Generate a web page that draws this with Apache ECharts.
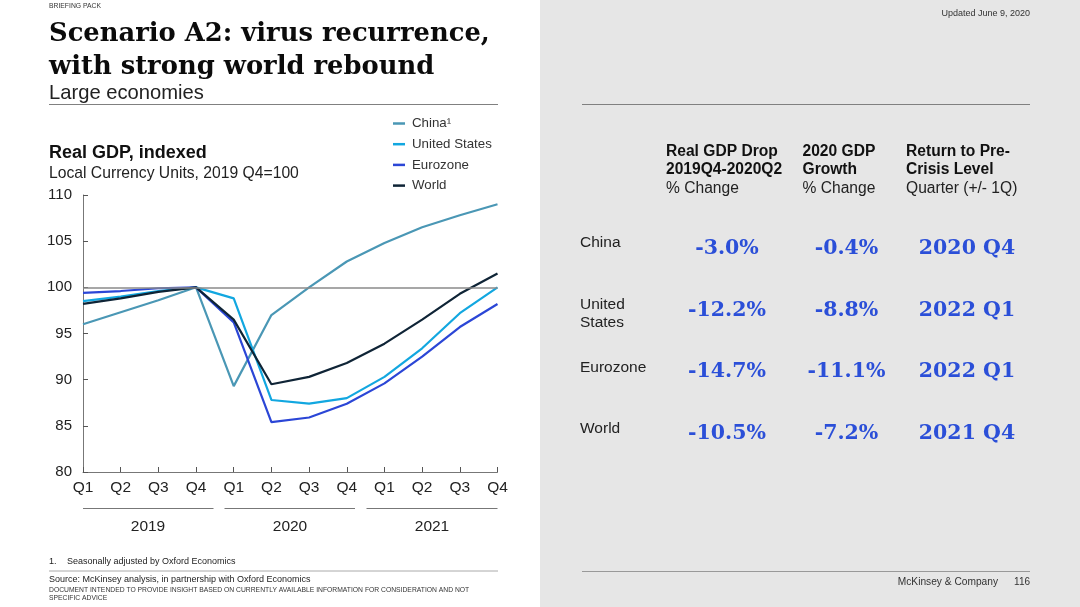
<!doctype html>
<html>
<head>
<meta charset="utf-8">
<title>Scenario A2</title>
<script src="https://cdn.jsdelivr.net/npm/echarts@6/dist/echarts.min.js"></script>
<style>
  html, body { margin: 0; padding: 0; background: #fff; }
  #chart { width: 1080px; height: 607px; }
</style>
</head>
<body>
<div id="chart"></div>
<script>
var quarters = ['Q1','Q2','Q3','Q4','Q1','Q2','Q3','Q4','Q1','Q2','Q3','Q4'];
var china = [96.0, 97.3, 98.6, 100, 89.3, 97.0, 100, 102.8, 104.8, 106.5, 107.8, 109.0];
var unitedStates = [98.5, 99.0, 99.6, 100, 98.8, 87.8, 87.4, 88.0, 90.3, 93.4, 97.2, 100.0];
var eurozone = [99.4, 99.6, 99.9, 100, 96.2, 85.4, 85.9, 87.4, 89.6, 92.5, 95.7, 98.2];
var world = [98.2, 98.8, 99.5, 100, 96.5, 89.5, 90.3, 91.8, 93.9, 96.5, 99.3, 101.5];
var years = ['2019', '2020', '2021'];

var rowNames = ['China', 'United\nStates', 'Eurozone', 'World'];
var gdpDrop = ['-3.0%', '-12.2%', '-14.7%', '-10.5%'];
var gdpGrowth = ['-0.4%', '-8.8%', '-11.1%', '-7.2%'];
var returnQuarter = ['2020 Q4', '2022 Q1', '2022 Q1', '2021 Q4'];

var sans = '"Liberation Sans", Arial, sans-serif';
var serif = '"DejaVu Serif", Georgia, serif';

function label(x, y, text, size, opts) {
  opts = opts || {};
  return {
    type: 'text', x: x, y: y, silent: true,
    style: {
      text: text, fill: opts.color || '#222', font: (opts.bold ? 'bold ' : '') + size + 'px ' + (opts.family || sans),
      textAlign: opts.align || 'left', textVerticalAlign: 'middle', lineHeight: opts.lineHeight
    }
  };
}
function rule(x1, x2, y, color, w) {
  return { type: 'line', silent: true, shape: { x1: x1, y1: y, x2: x2, y2: y }, style: { stroke: color, lineWidth: w } };
}

var graphics = [
  { type: 'rect', silent: true, z: -1, shape: { x: 540, y: 0, width: 540, height: 607 }, style: { fill: '#e6e6e6' } },
  label(49, 6.5, 'BRIEFING PACK', 6.8, { color: '#333' }),
  label(49, 34, 'Scenario A2: virus recurrence,', 25.8, { bold: true, family: serif, color: '#0b0b0b' }),
  label(49, 67, 'with strong world rebound', 25.8, { bold: true, family: serif, color: '#0b0b0b' }),
  label(49, 93, 'Large economies', 20.2, {}),
  rule(49, 498, 104.5, '#808080', 1),
  label(49, 153, 'Real GDP, indexed', 18, { bold: true, color: '#111' }),
  label(49, 174, 'Local Currency Units, 2019 Q4=100', 15.7, {}),
  rule(83, 213.5, 508.5, '#777', 1),
  rule(224.5, 355, 508.5, '#777', 1),
  rule(366.5, 497.5, 508.5, '#777', 1),
  label(148, 527, years[0], 15.5, { align: 'center' }),
  label(290, 527, years[1], 15.5, { align: 'center' }),
  label(432, 527, years[2], 15.5, { align: 'center' }),
  label(49, 562, '1.', 9),
  label(67, 562, 'Seasonally adjusted by Oxford Economics', 9),
  rule(49, 498, 571, '#aaa', 1),
  label(49, 579.5, 'Source: McKinsey analysis, in partnership with Oxford Economics', 9),
  label(49, 590, 'DOCUMENT INTENDED TO PROVIDE INSIGHT BASED ON CURRENTLY AVAILABLE INFORMATION FOR CONSIDERATION AND NOT', 6.78, { color: '#333' }),
  label(49, 598, 'SPECIFIC ADVICE', 6.78, { color: '#333' }),

  label(1030, 14, 'Updated June 9, 2020', 9, { align: 'right', color: '#333' }),
  rule(582, 1030, 104.5, '#808080', 1),
  rule(582, 1030, 571.5, '#999', 1),
  label(998, 582, 'McKinsey & Company', 10.2, { align: 'right', color: '#333' }),
  label(1030, 582, '116', 10, { align: 'right', color: '#333' }),

  label(666, 152, 'Real GDP Drop', 15.6, { bold: true, color: '#111' }),
  label(666, 170, '2019Q4-2020Q2', 15.6, { bold: true, color: '#111' }),
  label(666, 189, '% Change', 15.6),
  label(802.5, 152, '2020 GDP', 15.6, { bold: true, color: '#111' }),
  label(802.5, 170, 'Growth', 15.6, { bold: true, color: '#111' }),
  label(802.5, 189, '% Change', 15.6),
  label(906, 152, 'Return to Pre-', 15.6, { bold: true, color: '#111' }),
  label(906, 170, 'Crisis Level', 15.6, { bold: true, color: '#111' }),
  label(906, 189, 'Quarter (+/- 1Q)', 15.6)
];

var rowY = [249, 311, 372, 434];
var nameY = [243, 314, 368, 429];
rowNames.forEach(function (name, i) {
  graphics.push(label(580, nameY[i], name, 15.5, { lineHeight: 18 }));
  graphics.push(label(727, rowY[i], gdpDrop[i], 20.5, { bold: true, family: serif, color: '#2b4fd8', align: 'center' }));
  graphics.push(label(846.5, rowY[i], gdpGrowth[i], 20.5, { bold: true, family: serif, color: '#2b4fd8', align: 'center' }));
  graphics.push(label(967, rowY[i], returnQuarter[i], 20.5, { bold: true, family: serif, color: '#2b4fd8', align: 'center' }));
});

function lineSeries(name, values, color, extra) {
  var s = {
    name: name, type: 'line', data: values, symbol: 'none', smooth: false,
    lineStyle: { color: color, width: 2.2 }, itemStyle: { color: color }
  };
  return Object.assign(s, extra || {});
}

var chart = echarts.init(document.getElementById('chart'), null, { renderer: 'canvas' });
chart.setOption({
  animation: false,
  backgroundColor: '#fff',
  textStyle: { fontFamily: sans },
  graphic: graphics,
  grid: { left: 83, top: 195, width: 414.5, height: 277, containLabel: false },
  legend: {
    left: 393, top: 117, padding: 0, orient: 'vertical', itemWidth: 12, itemHeight: 2.5, itemGap: 7.7,
    icon: 'rect', textStyle: { color: '#333', fontSize: 13.3, fontFamily: sans, padding: [0, 0, 0, 2] },
    data: ['China¹', 'United States', 'Eurozone', 'World']
  },
  xAxis: {
    type: 'category', data: quarters, boundaryGap: false,
    axisLine: { lineStyle: { color: '#777', width: 1 } },
    axisTick: { length: 5, inside: true, lineStyle: { color: '#555' } },
    axisLabel: { color: '#222', fontSize: 15.5, margin: 8, interval: 0, showMinLabel: true, showMaxLabel: true }
  },
  yAxis: {
    type: 'value', min: 80, max: 110, interval: 5,
    axisLine: { show: true, lineStyle: { color: '#777', width: 1 } },
    axisTick: { show: true, length: 5, inside: true, lineStyle: { color: '#555' } },
    axisLabel: { color: '#222', fontSize: 15, margin: 11 },
    splitLine: { show: false }
  },
  series: [
    lineSeries('China¹', china, '#4a97b5', {
      markLine: { silent: true, symbol: 'none', label: { show: false }, lineStyle: { color: '#8a8a8a', width: 1.5, type: 'solid' }, data: [{ yAxis: 100 }] }
    }),
    lineSeries('United States', unitedStates, '#12a7e0'),
    lineSeries('Eurozone', eurozone, '#2b46d6'),
    lineSeries('World', world, '#0f2436')
  ]
});
</script>
</body>
</html>
